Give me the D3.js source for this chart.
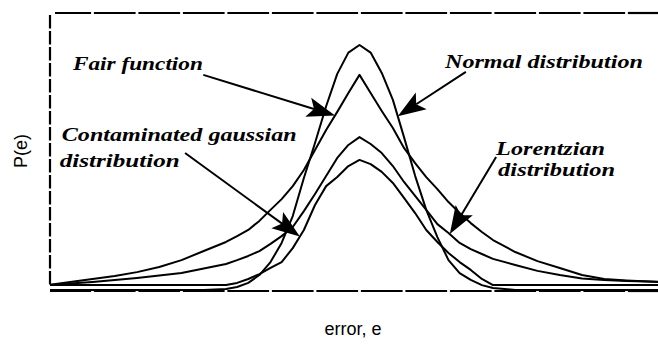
<!DOCTYPE html>
<html>
<head>
<meta charset="utf-8">
<script src="https://cdn.jsdelivr.net/npm/d3@7/dist/d3.min.js"></script>
<style>
  html, body { margin: 0; padding: 0; background: #fff; }
  svg { display: block; }
</style>
</head>
<body>
<svg id="chart" width="658" height="345"></svg>
<script>
// Error values (x) at which every density is sampled
const errorGrid = [-7, -6.5, -6, -5.5, -5, -4.5, -4, -3.5,
  -3, -2.75, -2.5, -2.25, -2, -1.75, -1.5, -1.25, -1, -0.75, -0.5, -0.25, 0,
  0.25, 0.5, 0.75, 1, 1.25, 1.5, 1.75, 2, 2.25, 2.5, 2.75, 3,
  3.5, 4, 4.5, 5, 5.5, 6, 6.5, 7];

// Relative probability P(e) of each model (normal peak = 1)
const normalP = [0, 0, 0, 0, 0, 0, 0, 0,
  0.004, 0.012, 0.029, 0.061, 0.114, 0.192, 0.302, 0.457, 0.600, 0.750, 0.882, 0.969, 1.0,
  0.969, 0.886, 0.776, 0.624, 0.466, 0.327, 0.216, 0.122, 0.069, 0.041, 0.020, 0.008,
  0, 0, 0, 0, 0, 0, 0, 0];

const fairP = [0.020, 0.033, 0.045, 0.057, 0.073, 0.094, 0.122, 0.159,
  0.196, 0.220, 0.245, 0.282, 0.327, 0.371, 0.424, 0.490, 0.571, 0.653, 0.727, 0.804, 0.878,
  0.804, 0.731, 0.661, 0.580, 0.518, 0.461, 0.412, 0.359, 0.314, 0.273, 0.237, 0.204,
  0.155, 0.118, 0.090, 0.061, 0.045, 0.039, 0.035, 0.029];

const lorentzianP = [0.020, 0.027, 0.033, 0.041, 0.049, 0.059, 0.069, 0.088,
  0.106, 0.122, 0.139, 0.159, 0.188, 0.220, 0.257, 0.322, 0.392, 0.465, 0.539, 0.592, 0.624,
  0.596, 0.559, 0.506, 0.441, 0.384, 0.327, 0.269, 0.233, 0.192, 0.167, 0.147, 0.127,
  0.102, 0.078, 0.061, 0.047, 0.041, 0.037, 0.035, 0.033];

const contaminatedP = [0.020, 0.020, 0.020, 0.020, 0.020, 0.020, 0.020, 0.020,
  0.020, 0.029, 0.045, 0.065, 0.090, 0.114, 0.171, 0.245, 0.347, 0.424, 0.461, 0.506, 0.531,
  0.514, 0.482, 0.437, 0.376, 0.314, 0.245, 0.196, 0.151, 0.114, 0.082, 0.045, 0.020,
  0.020, 0.020, 0.020, 0.020, 0.020, 0.020, 0.020, 0.020];

// Integer error positions marked on the frame
const errorTicks = d3.range(-7, 8);

// Label text, anchor (in data units) and the error value the arrow points at
const annotations = [
  { lines: ["Fair function"], e: -6.44, p: [0.898], dx: [0], widths: [130], series: fairP, tipE: -0.55, tailE: -3.51, tailP: 0.878 },
  { lines: ["Normal distribution"], e: 1.92, p: [0.906], dx: [0], widths: [198], series: normalP, tipE: 0.86, tailE: 2.39, tailP: 0.890 },
  { lines: ["Contaminated gaussian", "distribution"], e: -6.69, p: [0.608, 0.502], dx: [0, -2], widths: [235, 120], series: contaminatedP, tipE: -1.34, tailE: -3.92, tailP: 0.559 },
  { lines: ["Lorentzian", "distribution"], e: 3.07, p: [0.551, 0.465], dx: [0, 2], widths: [109, 117], series: lorentzianP, tipE: 2.03, tailE: 3.07, tailP: 0.543 }
];

const svg = d3.select("#chart");
const x = d3.scaleLinear().domain([-7, 7]).range([48, 671]);
const y = d3.scaleLinear().domain([0, 1]).range([290, 45]);

const frameLeft = 50, frameTop = 13, frameRight = 658;

// Frame: top and bottom edges broken at every integer error, dashed left edge
const gap = 1.4;
const segs = d3.pairs(errorTicks).map(([a, b]) => [x(a) + gap, x(b) - gap]);
const g = svg.append("g").attr("stroke", "#000").attr("stroke-width", 2.2).attr("fill", "none");
g.selectAll("line.top").data(segs).join("line")
  .attr("x1", d => Math.max(d[0], frameLeft + 5)).attr("x2", d => Math.min(d[1], frameRight))
  .attr("y1", frameTop).attr("y2", frameTop);
g.selectAll("line.bottom").data(segs).join("line")
  .attr("x1", d => Math.max(d[0], frameLeft)).attr("x2", d => Math.min(d[1], frameRight))
  .attr("y1", y(0) + 1).attr("y2", y(0) + 1);
g.append("line")
  .attr("x1", frameLeft).attr("x2", frameLeft)
  .attr("y1", frameTop + 2).attr("y2", y(0.02))
  .attr("stroke-dasharray", "13.5 2.5");

// Density curves
const line = d3.line().x((d, i) => x(errorGrid[i])).y(d => y(d)).curve(d3.curveLinear);
svg.append("clipPath").attr("id", "plot").append("rect")
  .attr("x", frameLeft).attr("y", 0).attr("width", frameRight - frameLeft).attr("height", 345);
svg.append("g").attr("clip-path", "url(#plot)")
  .selectAll("path").data([normalP, fairP, lorentzianP, contaminatedP]).join("path")
  .attr("d", line)
  .attr("fill", "none").attr("stroke", "#000").attr("stroke-width", 2)
  .attr("stroke-linejoin", "round");

// Value of a series at an arbitrary error, by linear interpolation
function valueAt(series, e) {
  const i = Math.max(1, Math.min(errorGrid.length - 1, d3.bisectLeft(errorGrid, e)));
  const e0 = errorGrid[i - 1], e1 = errorGrid[i];
  const t = (e - e0) / (e1 - e0);
  return series[i - 1] + t * (series[i] - series[i - 1]);
}

// Labels with arrows pointing at their curves
const ann = svg.append("g");
annotations.forEach(a => {
  a.lines.forEach((txt, k) => {
    ann.append("text")
      .attr("x", x(a.e) + a.dx[k])
      .attr("y", y(a.p[k]))
      .attr("font-family", "'Liberation Serif', 'DejaVu Serif', serif")
      .attr("font-style", "italic").attr("font-weight", "bold")
      .attr("font-size", 18)
      .attr("textLength", a.widths[k]).attr("lengthAdjust", "spacingAndGlyphs")
      .attr("fill", "#000")
      .text(txt);
  });
  const tx = x(a.tipE), ty = y(valueAt(a.series, a.tipE));
  const sx = x(a.tailE), sy = y(a.tailP);
  const ang = Math.atan2(ty - sy, tx - sx);
  const len = 28, half = 10, notch = 22;
  const ux = Math.cos(ang), uy = Math.sin(ang);
  const bx = tx - ux * len, by = ty - uy * len;
  const nx = tx - ux * notch, ny = ty - uy * notch;
  ann.append("line")
    .attr("x1", sx).attr("y1", sy).attr("x2", nx).attr("y2", ny)
    .attr("stroke", "#000").attr("stroke-width", 2);
  ann.append("path")
    .attr("d", `M${tx},${ty}L${bx - uy * half},${by + ux * half}L${nx},${ny}L${bx + uy * half},${by - ux * half}Z`)
    .attr("fill", "#000");
});

// Axis titles
svg.append("text")
  .attr("transform", "translate(27,151) rotate(-90)")
  .attr("text-anchor", "middle")
  .attr("font-family", "'Liberation Sans', Arial, sans-serif")
  .attr("font-size", 18).attr("fill", "#000")
  .text("P(e)");
svg.append("text")
  .attr("x", 353).attr("y", 335)
  .attr("text-anchor", "middle")
  .attr("font-family", "'Liberation Sans', Arial, sans-serif")
  .attr("font-size", 18).attr("fill", "#000")
  .text("error, e");
</script>
</body>
</html>
